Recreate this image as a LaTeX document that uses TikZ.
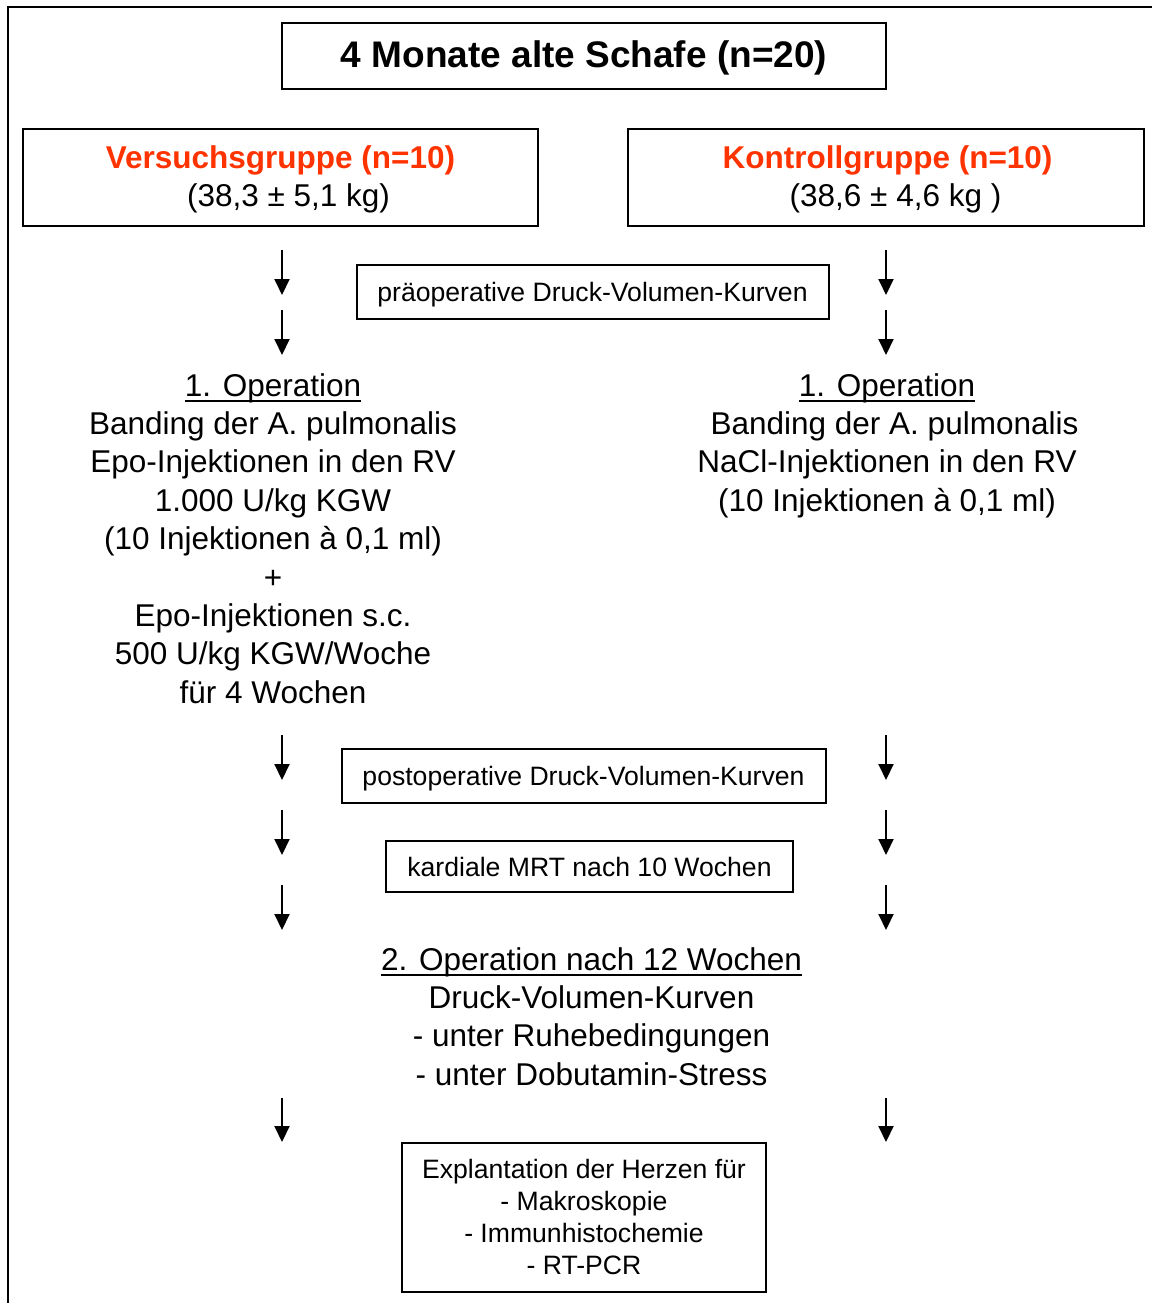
\documentclass[tikz,border=0pt]{standalone}
\usepackage{fontspec}
\setmainfont{Liberation Sans}
\usetikzlibrary{arrows.meta}
\definecolor{grpred}{RGB}{255,51,0}

% underlined heading: rule placed a little below the baseline
\newsavebox\ulinebox
\newcommand\ulinetext[1]{\sbox\ulinebox{#1}\rlap{\rule[-6pt]{\wd\ulinebox}{2pt}}\usebox\ulinebox}

% multi-line text nodes are placed by the baseline of their last line
\tikzset{
  box/.style={draw, line width=2.5pt, inner sep=0pt},
  txt/.style={anchor=base, inner sep=0pt, align=center},
  bigtxt/.style={txt, font=\fontsize{31.5}{38.4}\selectfont},
  smalltxt/.style={txt, font=\fontsize{26.6}{32}\selectfont},
  headtxt/.style={txt, font=\fontsize{37}{44}\selectfont\bfseries},
  grptxt/.style={txt, font=\fontsize{31.5}{38.4}\selectfont\bfseries, text=grpred},
  arr/.style={line width=2pt, -{Triangle[width=15pt,length=16pt]}},
  frame/.style={line width=2pt}
}

\begin{document}
\begin{tikzpicture}[x=1pt,y=-1pt]
\useasboundingbox (0,0) rectangle (1152,1303);

% open outer frame (top and left edge)
\coordinate (fTR) at (1152,7);
\coordinate (fTL) at (8,7);
\coordinate (fBL) at (8,1303);
\draw[frame] (fTR) -- (fTL) -- (fBL);

% title
\node[box, minimum width=604pt, minimum height=66pt] (title) at (584,56) {};
\node[headtxt] (titleT) at (584,68) {4 Monate alte Schafe (n=20)};

% group boxes
\node[box, minimum width=515pt, minimum height=97pt] (vg) at (280.5,177.5) {};
\node[grptxt] (vgT) at (280.5,168) {Versuchsgruppe (n=10)};
\node[bigtxt] (vgW) at (288.5,206) {(38,3 ± 5,1 kg)};

\node[box, minimum width=516pt, minimum height=97pt] (kg) at (886,177.5) {};
\node[grptxt] (kgT) at (887.5,168) {Kontrollgruppe (n=10)};
\node[bigtxt] (kgW) at (895.5,206) {(38,6 ± 4,6 kg )};

% pre-operative measurement
\node[box, minimum width=472pt, minimum height=54pt] (pre) at (593,292) {};
\node[smalltxt] (preT) at (592.5,301.5) {präoperative Druck-Volumen-Kurven};

% first operation, both groups
\node[bigtxt] (op1L) at (273,703.2) {\ulinetext{1. Operation}\\
  Banding der A. pulmonalis\\
  Epo-Injektionen in den RV\\
  1.000 U/kg KGW\\
  (10 Injektionen à 0,1 ml)\\
  +\\
  Epo-Injektionen s.c.\\
  500 U/kg KGW/Woche\\
  für 4 Wochen};
\node[bigtxt] (op1R) at (887,511.2) {\ulinetext{1. Operation}\\
  \hspace*{15pt}Banding der A. pulmonalis\\
  NaCl-Injektionen in den RV\\
  (10 Injektionen à 0,1 ml)};

% post-operative measurement and MRI
\node[box, minimum width=484pt, minimum height=54pt] (post) at (584,776) {};
\node[smalltxt] (postT) at (583.5,785.5) {postoperative Druck-Volumen-Kurven};
\node[box, minimum width=407pt, minimum height=51pt] (mrt) at (589.5,866.5) {};
\node[smalltxt] (mrtT) at (589.5,876) {kardiale MRT nach 10 Wochen};

% second operation
\node[bigtxt] (op2) at (591.5,1085.2) {\ulinetext{2. Operation nach 12 Wochen}\\
  Druck-Volumen-Kurven\\
  - unter Ruhebedingungen\\
  - unter Dobutamin-Stress};

% explantation
\node[box, minimum width=364pt, minimum height=149pt] (expl) at (584,1217.5) {};
\node[smalltxt] (explT) at (584,1274) {Explantation der Herzen für\\
  - Makroskopie\\
  - Immunhistochemie\\
  - RT-PCR};

% flow arrows down both columns
\foreach \i/\ya/\yb in {1/250/295, 2/310/355, 3/735/780, 4/810/855, 5/885/930, 6/1098/1142}{
  \coordinate (L\i a) at (282,\ya);
  \coordinate (L\i b) at (282,\yb);
  \coordinate (R\i a) at (886,\ya);
  \coordinate (R\i b) at (886,\yb);
  \draw[arr] (L\i a) -- (L\i b);
  \draw[arr] (R\i a) -- (R\i b);
}
\end{tikzpicture}
\end{document}
